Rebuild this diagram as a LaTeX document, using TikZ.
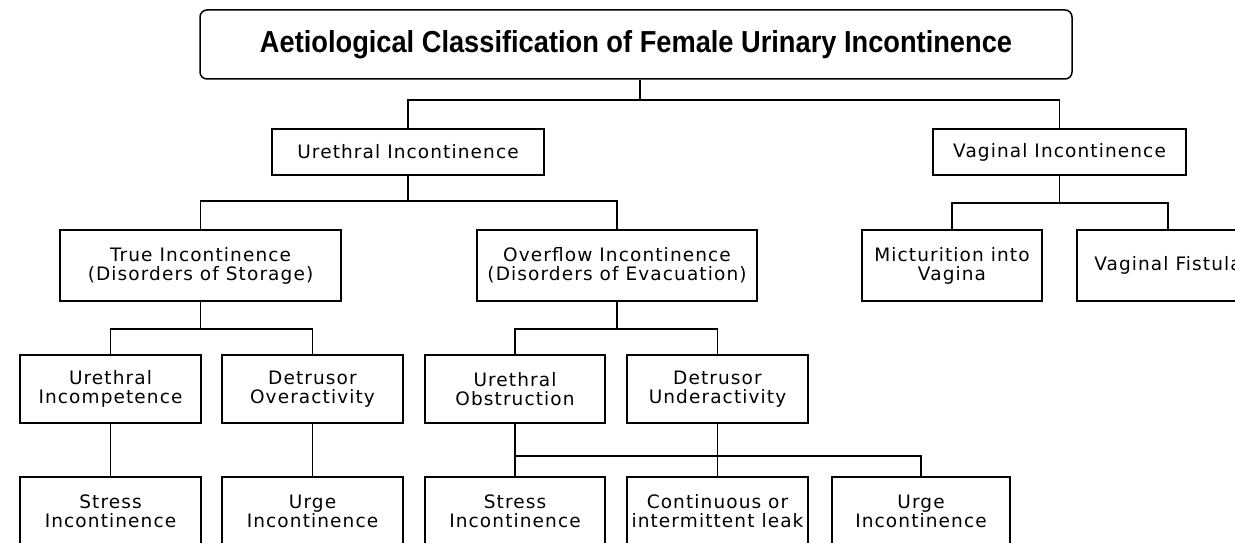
\documentclass[tikz,border=0pt]{standalone}
\usepackage{fontspec}
\usepackage{graphicx}
\newfontfamily\boxfont[LetterSpace=6]{DejaVu Sans}
\newfontfamily\titlefont{Liberation Sans}
\tikzset{
  every picture/.style={x=1pt,y=-1pt},
  conn/.style={draw=black,line width=1.5pt},
  box/.style={draw=black,line width=1.5pt,fill=white,inner sep=0pt,align=center,
    font=\boxfont\fontsize{18.5}{19}\selectfont},
  titlebox/.style={box,rounded corners=7pt},
}
\begin{document}
\begin{tikzpicture}[x=1pt,y=-1pt]
\useasboundingbox (0,0) rectangle (1235,543);
\clip (0,0) rectangle (1235,543);
\fill[white] (0,0) rectangle (1235,543);
% nodes
\node[titlebox,minimum width=872pt,minimum height=69pt] (top) at (636,44.5)
  {\resizebox{752pt}{22pt}{\titlefont\bfseries Aetiological Classification of Female Urinary Incontinence}};
\node[box,minimum width=272pt,minimum height=46pt] (ure) at (408,152) {Urethral Incontinence};
\node[box,minimum width=253pt,minimum height=46pt] (vag) at (1059.5,152) {Vaginal Incontinence};
\node[box,minimum width=281pt,minimum height=71pt] (true) at (200.5,265.5) {True Incontinence\\(Disorders of Storage)};
\node[box,minimum width=280pt,minimum height=71pt] (over) at (617,265.5) {Overflow Incontinence\\(Disorders of Evacuation)};
\node[box,minimum width=180pt,minimum height=71pt] (mict) at (952,265.5) {Micturition into\\Vagina};
\node[box,minimum width=182pt,minimum height=71pt] (fist) at (1168,265.5) {Vaginal Fistula};
\node[box,minimum width=181pt,minimum height=68pt] (uinc) at (110.5,389) {Urethral\\Incompetence};
\node[box,minimum width=181pt,minimum height=68pt] (dover) at (312.5,389) {Detrusor\\Overactivity};
\node[box,minimum width=180pt,minimum height=68pt] (uobs) at (515,389) {Urethral\\Obstruction};
\node[box,minimum width=181pt,minimum height=68pt] (dund) at (717.5,389) {Detrusor\\Underactivity};
\node[box,minimum width=181pt,minimum height=68pt] (stressA) at (110.5,511) {Stress\\Incontinence};
\node[box,minimum width=181pt,minimum height=68pt] (urgeA) at (312.5,511) {Urge\\Incontinence};
\node[box,minimum width=180pt,minimum height=68pt] (stressB) at (515,511) {Stress\\Incontinence};
\node[box,minimum width=181pt,minimum height=68pt] (cont) at (717.5,511) {Continuous or\\intermittent leak};
\node[box,minimum width=178pt,minimum height=68pt] (urgeB) at (921,511) {Urge\\Incontinence};
% junctions
\coordinate (j0) at (640,100);
\coordinate (j1) at (408,201);
\coordinate (j2) at (1059.5,203);
\coordinate (j3) at (200.5,329);
\coordinate (j4) at (617,329);
\coordinate (j5) at (921,456);
% connectors
\draw[conn] ([xshift=4pt]top.south) -- (j0);
\draw[conn] (ure.north) |- (j0) -| (vag.north);
\draw[conn] (ure.south) -- (j1);
\draw[conn] (true.north) |- (j1) -| (over.north);
\draw[conn] (vag.south) -- (j2);
\draw[conn] (mict.north) |- (j2) -| (fist.north);
\draw[conn] (true.south) -- (j3);
\draw[conn] (uinc.north) |- (j3) -| (dover.north);
\draw[conn] (over.south) -- (j4);
\draw[conn] (uobs.north) |- (j4) -| (dund.north);
\draw[conn] (uinc.south) -- (stressA.north);
\draw[conn] (dover.south) -- (urgeA.north);
\draw[conn] (uobs.south) -- (stressB.north);
\draw[conn] (dund.south) -- (cont.north);
\draw[conn] (stressB.north |- j5) -- (j5) -- (urgeB.north);
\end{tikzpicture}
\end{document}
